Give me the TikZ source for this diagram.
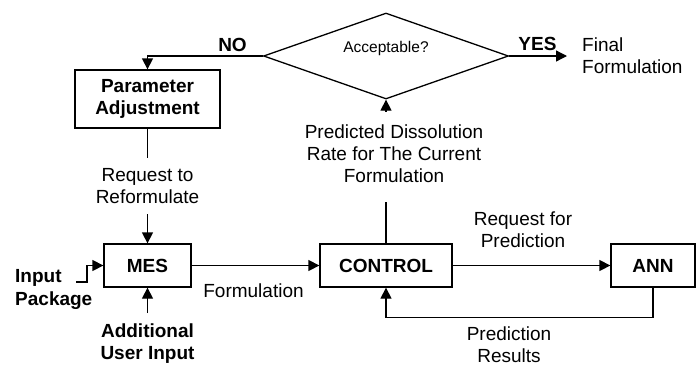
\documentclass[tikz,border=0pt]{standalone}
\usepackage{fontspec}
\setmainfont{Liberation Sans}
\usetikzlibrary{arrows.meta,shapes.geometric}

\begin{document}
\begin{tikzpicture}[x=1pt,y=-1pt,font=\fontsize{19}{22}\selectfont,
  block/.style={draw,line width=1.3pt,font=\fontsize{19}{22}\selectfont\bfseries,minimum height=43pt,inner sep=0pt,align=center},
  link/.style={line width=1.3pt,-{Triangle[length=11pt,width=11pt]}},
  plain/.style={line width=1.3pt},
  lbl/.style={align=center,inner sep=0pt,outer sep=10.5pt}]
\useasboundingbox (0,0) rectangle (696,365);
\node[block,minimum width=145pt,minimum height=58pt] (param) at (147.5,99) {Parameter\\Adjustment};
\node[block,minimum width=87pt] (mes) at (147.5,265.5) {MES};
\node[block,minimum width=132pt] (control) at (386,265.5) {CONTROL};
\node[block,minimum width=84pt] (ann) at (653,265.5) {ANN};
\node[draw,diamond,aspect=2.85,line width=1.3pt,minimum width=245pt,minimum height=86pt,inner sep=0pt] (check) at (386,56) {};
\node[inner sep=0pt,font=\fontsize{15.5}{18}\selectfont] (asktext) at (386,48) {Acceptable?};
\node[inner sep=0pt,font=\fontsize{19}{22}\selectfont\bfseries] (no) at (232.5,45) {NO};
\node[inner sep=0pt,font=\fontsize{19}{22}\selectfont\bfseries] (yes) at (537.5,43.5) {YES};
\node[inner sep=0pt,align=left,anchor=west] (final) at (582,56) {Final\\Formulation};
\node[lbl] (reform) at (147.5,186) {Request to\\Reformulate};
\node[lbl] (pred) at (394,153.5) {Predicted Dissolution\\Rate for The Current\\Formulation};
\node[lbl,font=\fontsize{19}{22}\selectfont\bfseries] (addin) at (147.5,343.5) {Additional\\User Input};
\node[inner sep=0pt,align=left,anchor=west,font=\fontsize{19}{22.5}\selectfont\bfseries] (inpkg) at (15,289.5) {Input\\Package};
\node[inner sep=0pt] (formlbl) at (253.5,291) {Formulation};
\node[lbl] (reqpred) at (523,229.5) {Request for\\Prediction};
\node[lbl] (results) at (509,344.5) {Prediction\\Results};
\coordinate (pkgend) at (76,282);

\draw[link] (check.west) -| (param.north);
\draw[link,shorten >=15pt] (check.east) -- (final.west);
\draw[plain] (param.south) -- (reform.north);
\draw[link] (reform.south) -- (mes.north);
\draw[link] (pkgend) -- ++(11,0) |- (mes.west);
\draw[link] (addin.north) -- (mes.south);
\draw[link] (mes.east) -- (control.west);
\draw[plain,shorten >=9.5pt] (control.north) -- (control.north |- pred.south);
\draw[link,shorten <=2.5pt] (check.south |- pred.north) -- (check.south);
\draw[link] (control.east) -- (ann.west);
\draw[link] (ann.south) -- ++(0,30) -| (control.south);
\end{tikzpicture}
\end{document}
